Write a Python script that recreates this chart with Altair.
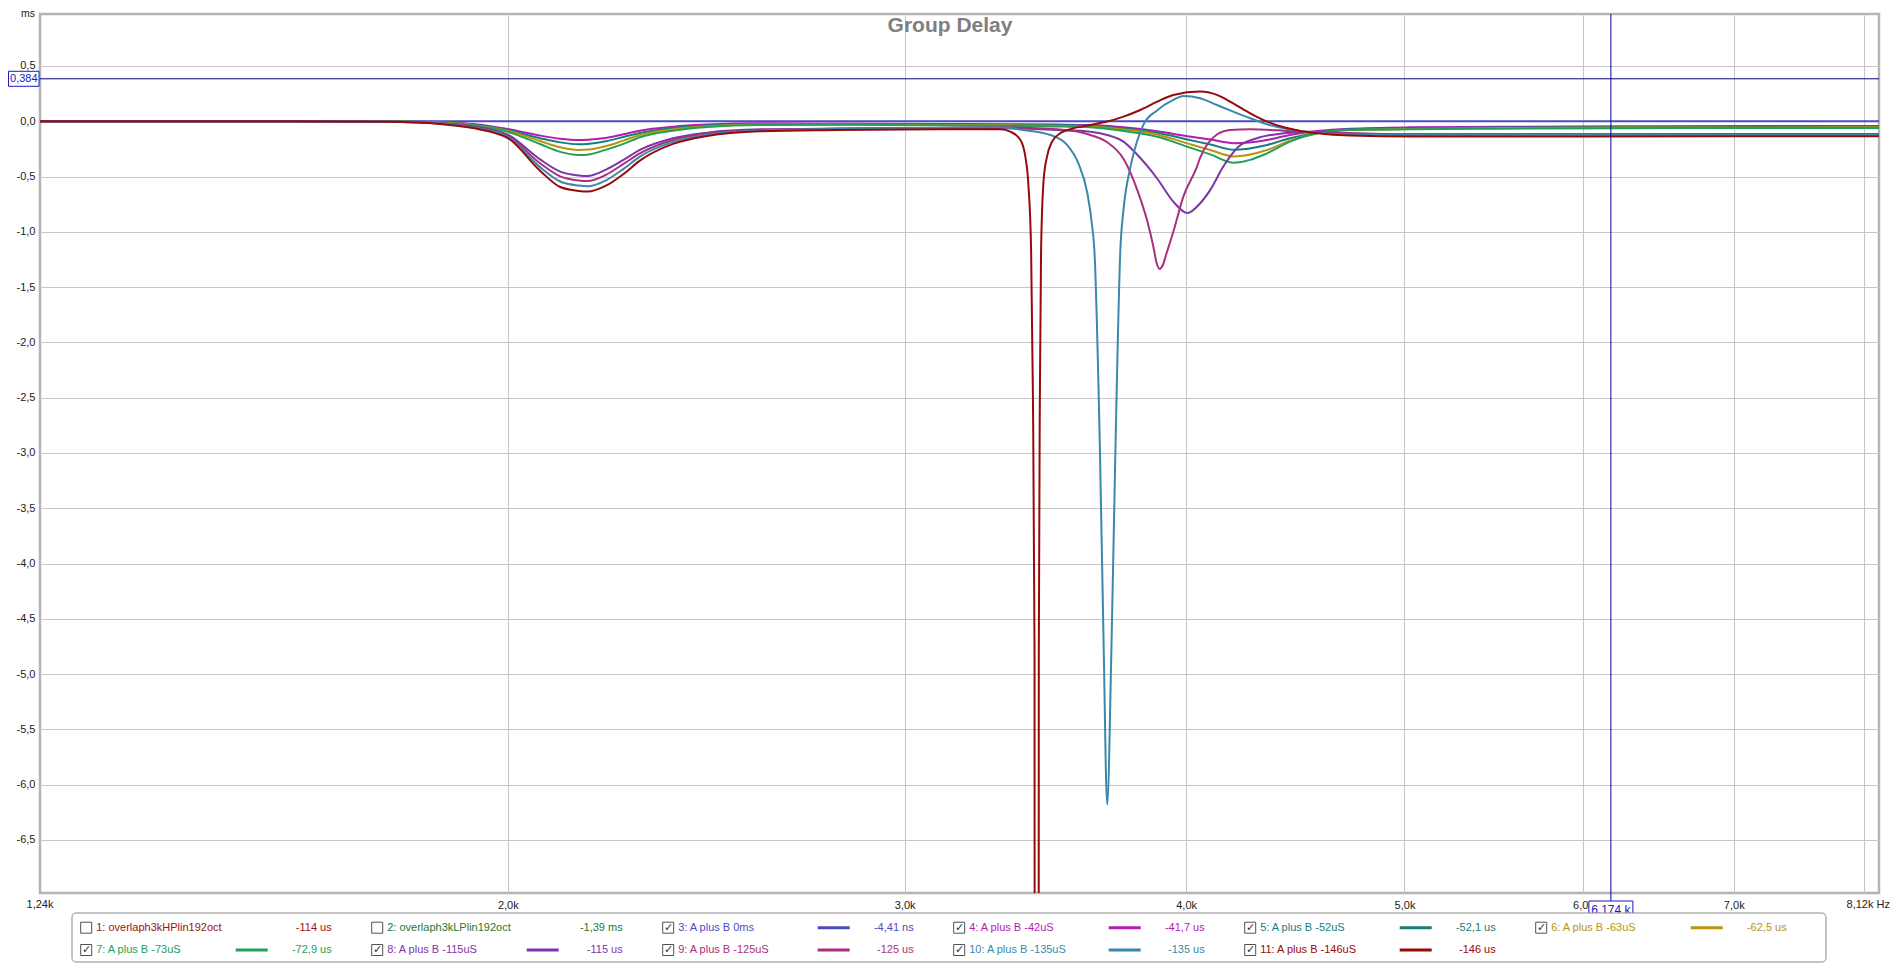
import math
import altair as alt
import pandas as pd

# ---------------- axes ----------------
X_MIN, X_MAX = 1240, 8120
Y_MIN, Y_MAX = -6.98, 0.97
X_TICKS = [2000, 3000, 4000, 5000, 6000, 7000, 8000]
Y_TICKS = [0.5, 0.0, -0.5, -1.0, -1.5, -2.0, -2.5, -3.0, -3.5, -4.0, -4.5, -5.0, -5.5, -6.0, -6.5]
CURSOR_F = 6174
CURSOR_V = 0.384

# ---------------- series data (Hz, ms) ----------------
FREQ_A = [1240, 1600, 1770, 1866, 1930, 2000, 2067, 2110, 2150, 2170, 2210, 2251, 2289, 2368, 2452, 2588, 2800, 3100]

S3_F = [1240, 3000, 8120]
S3_V = [0.0, 0.0, 0.0]

S4_A = [0, 0, -0.002, -0.006, -0.024, -0.070, -0.130, -0.158, -0.169, -0.167, -0.151, -0.118, -0.085, -0.049, -0.030, -0.018, -0.020, -0.024]
S5_A = [0, 0, -0.002, -0.009, -0.030, -0.080, -0.153, -0.191, -0.208, -0.205, -0.181, -0.142, -0.106, -0.061, -0.039, -0.024, -0.025, -0.029]
S6_A = [0, 0, -0.003, -0.012, -0.033, -0.088, -0.178, -0.235, -0.259, -0.256, -0.226, -0.175, -0.124, -0.073, -0.046, -0.030, -0.029, -0.033]
S7_A = [0, 0, -0.003, -0.015, -0.036, -0.096, -0.206, -0.277, -0.305, -0.302, -0.259, -0.205, -0.145, -0.085, -0.052, -0.033, -0.032, -0.037]
S8_A = [0, 0, -0.004, -0.018, -0.047, -0.122, -0.345, -0.455, -0.490, -0.495, -0.440, -0.350, -0.259, -0.154, -0.103, -0.073, -0.066, -0.062]
S9_A = [0, 0, -0.004, -0.018, -0.052, -0.132, -0.380, -0.498, -0.535, -0.540, -0.486, -0.386, -0.290, -0.169, -0.112, -0.079, -0.068, -0.060]
S10_A = [0, 0, -0.005, -0.021, -0.057, -0.141, -0.415, -0.545, -0.582, -0.588, -0.537, -0.431, -0.320, -0.187, -0.121, -0.085, -0.070, -0.058]
S11_A = [0, 0, -0.005, -0.024, -0.062, -0.152, -0.447, -0.595, -0.630, -0.636, -0.585, -0.477, -0.356, -0.205, -0.133, -0.091, -0.080, -0.072]

FREQ_B_UP = [3309, 3500, 3627, 3752, 3884, 4005, 4100, 4200, 4345, 4448, 4573, 4730, 5028, 5500, 6500, 8120]
S4_B = [-0.027, -0.030, -0.035, -0.055, -0.090, -0.135, -0.165, -0.198, -0.169, -0.124, -0.088, -0.067, -0.055, -0.050, -0.045, -0.042]
S5_B = [-0.032, -0.036, -0.042, -0.065, -0.105, -0.165, -0.210, -0.258, -0.214, -0.154, -0.103, -0.073, -0.064, -0.057, -0.052, -0.050]
S6_B = [-0.037, -0.041, -0.048, -0.075, -0.120, -0.200, -0.260, -0.318, -0.260, -0.175, -0.109, -0.079, -0.070, -0.062, -0.057, -0.055]
S7_B = [-0.042, -0.047, -0.055, -0.088, -0.140, -0.230, -0.300, -0.375, -0.290, -0.184, -0.109, -0.079, -0.073, -0.067, -0.062, -0.060]

S8_BF = [3309, 3507, 3627, 3690, 3752, 3800, 3884, 3948, 4005, 4058, 4100, 4155, 4221, 4300, 4420, 4541, 4730, 5028, 6000, 8120]
S8_BV = [-0.064, -0.079, -0.094, -0.124, -0.184, -0.29, -0.52, -0.727, -0.83, -0.742, -0.621, -0.41, -0.229, -0.154, -0.109, -0.094, -0.109, -0.118, -0.117, -0.115]

S9_BF = [3309, 3507, 3627, 3690, 3752, 3805, 3844, 3868, 3881, 3893, 3906, 3920, 3948, 3989, 4043, 4058, 4128, 4185, 4271, 4420, 4541, 4730, 5028, 6000, 8120]
S9_BV = [-0.055, -0.073, -0.124, -0.19, -0.34, -0.62, -0.90, -1.13, -1.28, -1.335, -1.30, -1.20, -1.00, -0.68, -0.42, -0.33, -0.12, -0.079, -0.073, -0.085, -0.10, -0.109, -0.118, -0.118, -0.118]

S10_BF = [3309, 3387, 3482, 3542, 3583, 3616, 3634, 3642, 3663, 3677, 3690, 3706, 3721, 3740, 3752, 3779, 3806, 3829, 3884, 3948, 3989, 4058, 4128, 4197, 4271, 4345, 4420, 4495, 4573, 4730, 5028, 6000, 8120]
S10_BV = [-0.054, -0.079, -0.124, -0.214, -0.38, -0.651, -0.952, -1.164, -3.0, -4.78, -6.18, -4.78, -3.0, -1.164, -0.802, -0.41, -0.169, -0.033, 0.100, 0.193, 0.229, 0.208, 0.147, 0.087, 0.027, -0.027, -0.064, -0.088, -0.103, -0.118, -0.125, -0.122, -0.122]

S11_BF = [3309, 3342, 3377, 3394, 3405, 3414, 3420, 3426, 3427, 3440, 3441, 3445, 3449, 3458, 3470, 3488, 3517, 3565, 3627, 3690, 3752, 3817, 3884, 3948, 4058, 4128, 4197, 4271, 4345, 4420, 4495, 4573, 4730, 5028, 6000, 8120]
S11_BV = [-0.072, -0.094, -0.169, -0.32, -0.591, -1.164, -2.4, -4.8, -12.0, -12.0, -4.8, -2.4, -1.164, -0.531, -0.32, -0.184, -0.109, -0.064, -0.033, -0.003, 0.042, 0.102, 0.177, 0.238, 0.268, 0.238, 0.162, 0.072, -0.003, -0.055, -0.088, -0.109, -0.13, -0.139, -0.137, -0.135]

SERIES_IDS = ["s03", "s04", "s05", "s06", "s07", "s08", "s09", "s10", "s11"]
SERIES_COLORS = ["#4b4bc3", "#b41ab4", "#167d7d", "#b8940f", "#22a055", "#7d35a8", "#a8307d", "#3a88ab", "#960a0a"]

# ---------------- legend data ----------------
LEG_LABELS = ["1: overlaph3kHPlin192oct", "2: overlaph3kLPlin192oct", "3: A plus B 0ms", "4: A plus B -42uS",
              "5: A plus B -52uS", "6: A plus B -63uS", "7: A plus B -73uS", "8: A plus B -115uS",
              "9: A plus B -125uS", "10: A plus B -135uS", "11: A plus B -146uS"]
LEG_VALUES = ["-114 us", "-1,39 ms", "-4,41 ns", "-41,7 us", "-52,1 us", "-62,5 us", "-72,9 us",
              "-115 us", "-125 us", "-135 us", "-146 us"]
LEG_COLORS = ["#a01010", "#1e7838"] + SERIES_COLORS
LEG_CHECKED = [False, False, True, True, True, True, True, True, True, True, True]

# ---------------- build tables ----------------
rows = []
def add(sid, fs, vs):
    for f, v in zip(fs, vs):
        rows.append({"sid": sid, "f": f, "v": v})

add("s03", S3_F, S3_V)
add("s04", FREQ_A + FREQ_B_UP, S4_A + S4_B)
add("s05", FREQ_A + FREQ_B_UP, S5_A + S5_B)
add("s06", FREQ_A + FREQ_B_UP, S6_A + S6_B)
add("s07", FREQ_A + FREQ_B_UP, S7_A + S7_B)
add("s08", FREQ_A + S8_BF, S8_A + S8_BV)
add("s09", FREQ_A + S9_BF, S9_A + S9_BV)
add("s10", FREQ_A + S10_BF, S10_A + S10_BV)
add("s11", FREQ_A + S11_BF, S11_A + S11_BV)
df = pd.DataFrame(rows)

leg = pd.DataFrame({
    "idx": list(range(len(LEG_LABELS))),
    "label": LEG_LABELS,
    "value": LEG_VALUES,
    "color": LEG_COLORS,
    "checked": LEG_CHECKED,
})

W, H = 1839, 879
FONT = "Liberation Sans"

xs = alt.Scale(type="log", domain=[X_MIN, X_MAX], nice=False)
ys = alt.Scale(domain=[Y_MIN, Y_MAX], nice=False, zero=False)

x_axis = alt.Axis(values=X_TICKS, grid=True, ticks=False, domain=False, title=None,
                  labelExpr="datum.value == 8000 ? '' : replace(format(datum.value / 1000, '.1f'), '.', ',') + 'k'",
                  labelFont=FONT, labelFontSize=11, labelColor="#222222", labelPadding=6,
                  gridColor="#c6c6c6", gridWidth=1)
y_axis = alt.Axis(values=Y_TICKS, grid=True, ticks=False, domain=False, title=None,
                  labelExpr="replace(replace(format(datum.value, '.1f'), '.', ','), '\u2212', '-')",
                  labelFont=FONT, labelFontSize=11, labelColor="#222222", labelPadding=5,
                  gridColor="#c6c6c6", gridWidth=1)

lines = alt.Chart(df).mark_line(clip=True, strokeWidth=2, interpolate="monotone").encode(
    x=alt.X("f:Q", scale=xs, axis=x_axis),
    y=alt.Y("v:Q", scale=ys, axis=y_axis),
    color=alt.Color("sid:N", scale=alt.Scale(domain=SERIES_IDS, range=SERIES_COLORS), legend=None),
)

one = pd.DataFrame({"k": [0]})

hcur = alt.Chart(one).mark_rule(color="#000080", strokeWidth=1).encode(y=alt.datum(CURSOR_V))
vcur = alt.Chart(one).mark_rule(color="#0000a0", strokeWidth=1).encode(x=alt.datum(CURSOR_F))
vcur_ext = alt.Chart(one).mark_rule(color="#0000a0", strokeWidth=1).encode(
    x=alt.datum(CURSOR_F), y=alt.value(H), y2=alt.value(H + 8))

# cursor readout boxes
dv = 7.5 / 110.6
ybox = alt.Chart(one).mark_rect(fill="white", stroke="#1a1ac0", strokeWidth=1).encode(
    x=alt.value(-31.5), x2=alt.value(-1), y=alt.datum(CURSOR_V + dv), y2=alt.datum(CURSOR_V - dv))
ytxt = alt.Chart(one).mark_text(font=FONT, fontSize=11, color="#1a1ac0", align="center", baseline="middle").encode(
    x=alt.value(-16.2), y=alt.datum(CURSOR_V), text=alt.value("0,384"))
fpx = math.log10(X_MAX / X_MIN) / W
xbox = alt.Chart(one).mark_rect(fill="white", stroke="#1a1ac0", strokeWidth=1).encode(
    x=alt.datum(CURSOR_F * 10 ** (-22 * fpx)), x2=alt.datum(CURSOR_F * 10 ** (22 * fpx)),
    y=alt.value(H + 8), y2=alt.value(H + 24))
xtxt = alt.Chart(one).mark_text(font=FONT, fontSize=12, color="#1a1ac0", align="center", baseline="middle").encode(
    x=alt.datum(CURSOR_F), y=alt.value(H + 16.5), text=alt.value("6,174 k"))

# end labels of x axis
lab_lo = alt.Chart(one).mark_text(font=FONT, fontSize=11, color="#222222", align="center", baseline="middle").encode(
    x=alt.datum(X_MIN), y=alt.value(H + 12), text=alt.value("1,24k"))
lab_hi = alt.Chart(one).mark_text(font=FONT, fontSize=11, color="#222222", align="right", baseline="middle", dx=11).encode(
    x=alt.datum(X_MAX), y=alt.value(H + 12), text=alt.value("8,12k Hz"))

ms = alt.Chart(one).mark_text(font=FONT, fontSize=10.5, color="#222222", align="right", baseline="top").encode(
    x=alt.value(-5), y=alt.value(-5.5), text=alt.value("ms"))
title = alt.Chart(one).mark_text(font=FONT, fontSize=21, fontWeight="bold", color="#808080",
                                 align="center", baseline="middle").encode(
    x=alt.value(910), y=alt.value(12), text=alt.value("Group Delay"))

# legend
legbox = alt.Chart(one).mark_rect(fill="white", stroke="#8a8a8a", strokeWidth=1, cornerRadius=4).encode(
    x=alt.value(32), x2=alt.value(1786), y=alt.value(899), y2=alt.value(948))

lbase = alt.Chart(leg).transform_calculate(
    col="datum.idx % 6", row="floor(datum.idx / 6)"
).transform_calculate(
    cbx="40.7 + 291 * datum.col", ry="913.7 + 22.3 * datum.row"
).transform_calculate(
    cbx2="datum.cbx + 11", cby="datum.ry - 5.5", cby2="datum.ry + 5.5", cbc="datum.cbx + 5.8",
    lx="datum.cbx + 15.5", sx1="datum.cbx + 155", sx2="datum.cbx + 187", vx="datum.cbx + 251"
)

cbox = lbase.mark_rect(fill="white", stroke="#505050", strokeWidth=1).encode(
    x=alt.X("cbx:Q", scale=None), x2="cbx2:Q", y=alt.Y("cby:Q", scale=None), y2="cby2:Q")
ticks = lbase.transform_filter("datum.checked").mark_text(
    font="DejaVu Sans", fontSize=11, color="#303030", align="center", baseline="middle").encode(
    x=alt.X("cbc:Q", scale=None), y=alt.Y("ry:Q", scale=None), text=alt.value("\u2713"))
ltext = lbase.mark_text(font=FONT, fontSize=11, align="left", baseline="middle").encode(
    x=alt.X("lx:Q", scale=None), y=alt.Y("ry:Q", scale=None), text="label:N",
    color=alt.Color("color:N", scale=None))
swatch = lbase.transform_filter("datum.checked").mark_rule(strokeWidth=3).encode(
    x=alt.X("sx1:Q", scale=None), x2="sx2:Q", y=alt.Y("ry:Q", scale=None),
    color=alt.Color("color:N", scale=None))
vtext = lbase.mark_text(font=FONT, fontSize=11, align="right", baseline="middle").encode(
    x=alt.X("vx:Q", scale=None), y=alt.Y("ry:Q", scale=None), text="value:N",
    color=alt.Color("color:N", scale=None))

chart = alt.layer(
    lines, hcur, vcur, vcur_ext, ybox, ytxt, lab_lo, lab_hi, xbox, xtxt, ms, title,
    legbox, cbox, ticks, ltext, swatch, vtext
).properties(
    width=W, height=H,
    padding={"left": 32, "top": 6, "right": 12, "bottom": 70},
    autosize=alt.AutoSizeParams(type="none"),
    background="white",
).configure_view(stroke="#b4b4b4", strokeWidth=2.5)

chart.save("out.html", embed_options={"renderer": "svg", "actions": False})
